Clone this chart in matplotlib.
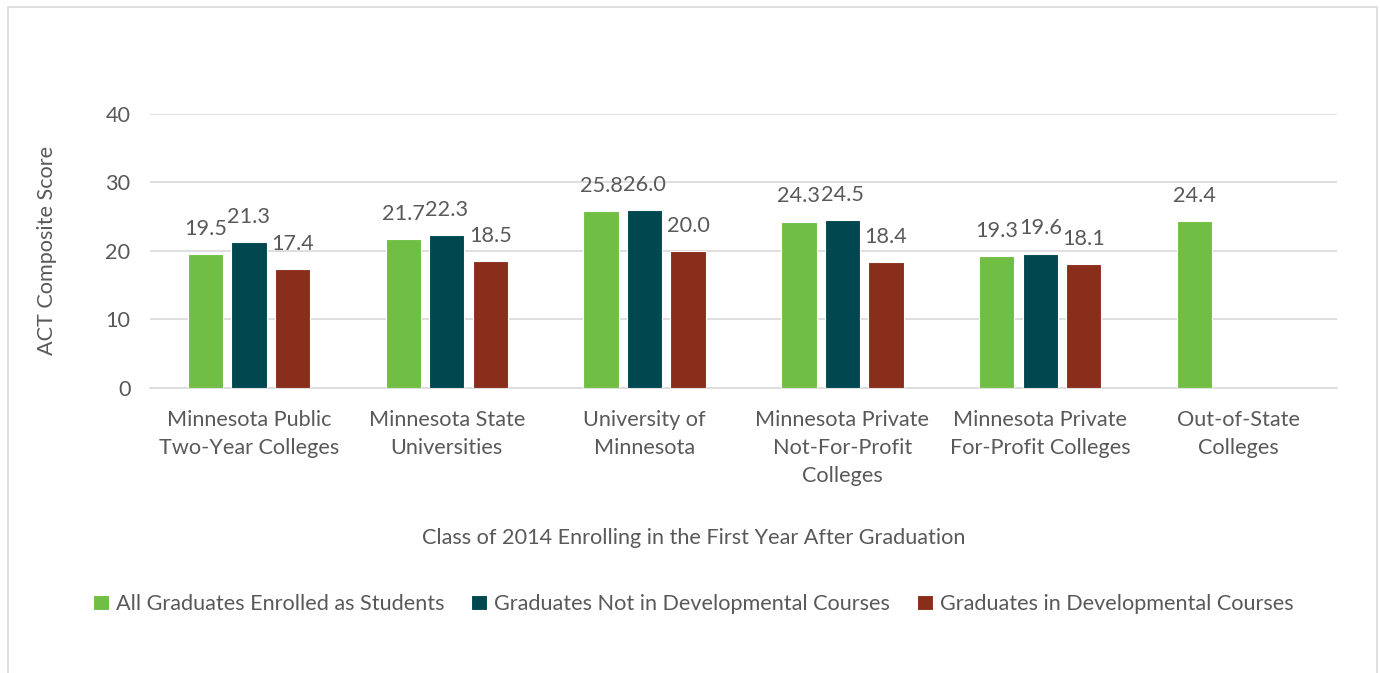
import matplotlib
matplotlib.use("Agg")
import matplotlib.pyplot as plt
import numpy as np
from matplotlib.patches import Rectangle

categories = ["Minnesota Public\nTwo-Year Colleges", "Minnesota State\nUniversities",
              "University of\nMinnesota", "Minnesota Private\nNot-For-Profit\nColleges",
              "Minnesota Private\nFor-Profit Colleges", "Out-of-State\nColleges"]
series_names = ["All Graduates Enrolled as Students",
                "Graduates Not in Developmental Courses",
                "Graduates in Developmental Courses"]
all_grads = [19.5, 21.7, 25.8, 24.3, 19.3, 24.4]
not_dev = [21.3, 22.3, 26.0, 24.5, 19.6, None]
in_dev = [17.4, 18.5, 20.0, 18.4, 18.1, None]
colors = ["#70BE44", "#00474F", "#8A2E1C"]

plt.rcParams['font.family'] = ['Lato', 'DejaVu Sans']
TXT = "#595959"
FS = 15.6

fig = plt.figure(figsize=(13.8, 6.73), dpi=100)
W, H = 1380, 673
ax = fig.add_axes([150 / W, 1 - 388 / H, (1337 - 150) / W, (388 - 114) / H])

x = np.arange(len(categories))
width = 0.178
offsets = [-0.22, 0.0, 0.22]
for s, (vals, off, col, name) in enumerate(zip([all_grads, not_dev, in_dev], offsets, colors, series_names)):
    xs = [xi + off for xi, v in zip(x, vals) if v is not None]
    vs = [v for v in vals if v is not None]
    bars = ax.bar(xs, vs, width=width, color=col, edgecolor="white", linewidth=0.8,
                  label=name, zorder=3)
    for b, v in zip(bars, vs):
        ax.annotate(f"{v:.1f}", (b.get_x() + b.get_width() / 2, v), xytext=(0, 11),
                    textcoords="offset points", ha="center", va="bottom",
                    fontsize=FS, color=TXT)

ax.set_xlim(-0.5, len(categories) - 0.5)
ax.set_ylim(0, 40)
ax.set_yticks([0, 10, 20, 30, 40])
ax.yaxis.grid(True, color="#D9D9D9", linewidth=1.2, zorder=0)
ax.set_axisbelow(True)
for sp in ["top", "right", "left"]:
    ax.spines[sp].set_visible(False)
ax.spines["bottom"].set_color("#D9D9D9")
ax.spines["bottom"].set_linewidth(1.2)
ax.tick_params(axis="y", length=0, pad=14, labelsize=FS, labelcolor=TXT)
ax.tick_params(axis="x", length=0, pad=16, labelsize=FS, labelcolor=TXT)
ax.set_xticks(x)
ax.set_xticklabels(categories, linespacing=1.5)

fig.text(47 / W, 1 - 250 / H, "ACT Composite Score", rotation=90, ha="center", va="center",
         fontsize=FS, color=TXT)
fig.text(694 / W, 1 - 538 / H, "Class of 2014 Enrolling in the First Year After Graduation",
         ha="center", va="center", fontsize=FS, color=TXT)

leg = fig.legend(loc="center", bbox_to_anchor=(693 / W, 1 - 604 / H), ncol=3, frameon=False,
                 fontsize=FS, handlelength=0.75, handleheight=0.75, handletextpad=0.3,
                 columnspacing=1.25, labelcolor=TXT)

fig.patches.append(Rectangle((8 / W, -0.05), (1377 - 8) / W, 1.05 - 7 / H, transform=fig.transFigure,
                             fill=False, edgecolor="#D9D9D9", linewidth=1.2))

fig.savefig("out.png", dpi=100, facecolor="white")
